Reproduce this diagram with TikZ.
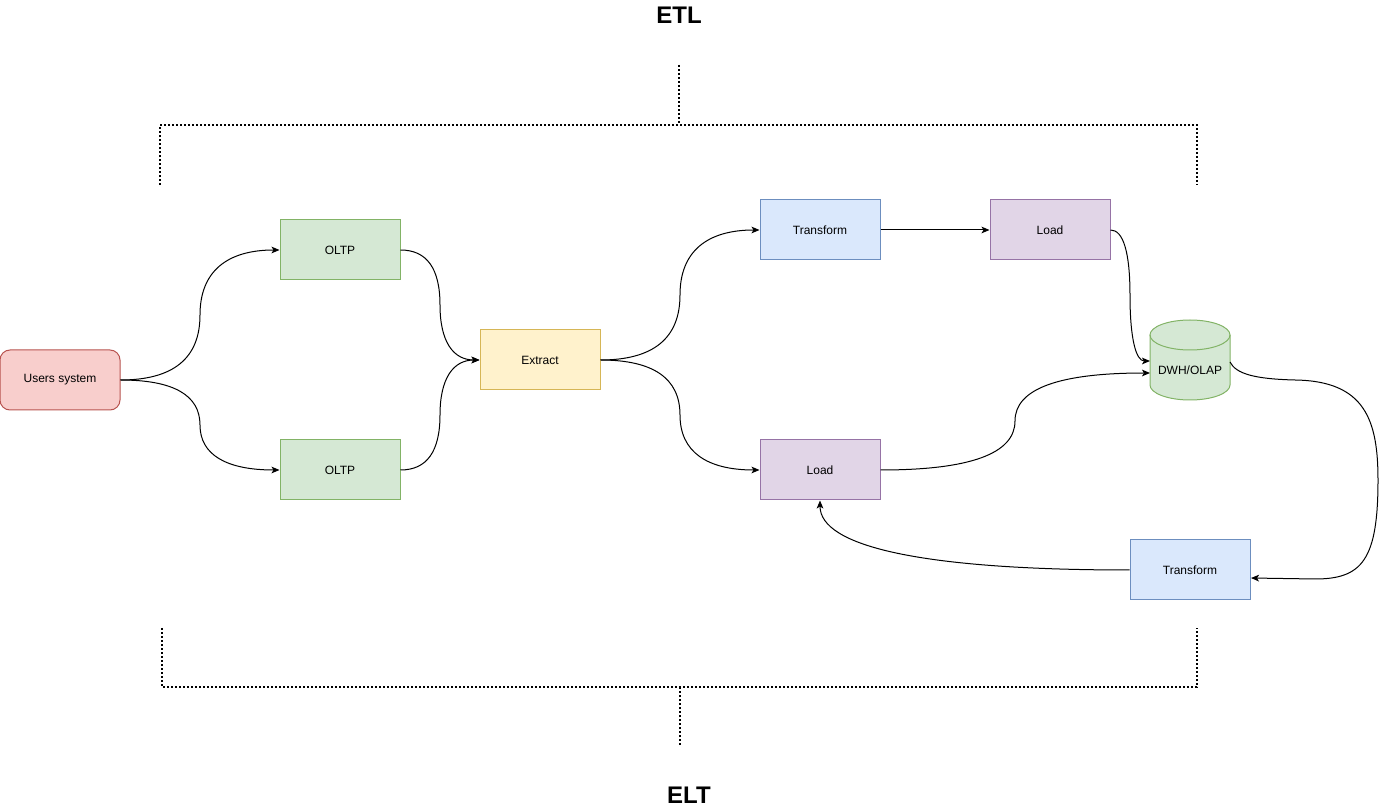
\documentclass[tikz,border=0pt]{standalone}
\usepackage{fontspec}
\setmainfont{Liberation Sans}
\usetikzlibrary{arrows.meta}
\definecolor{redfill}{HTML}{F8CECC}\definecolor{reddraw}{HTML}{B85450}
\definecolor{greenfill}{HTML}{D5E8D4}\definecolor{greendraw}{HTML}{82B366}
\definecolor{yellowfill}{HTML}{FFF2CC}\definecolor{yellowdraw}{HTML}{D6B656}
\definecolor{bluefill}{HTML}{DAE8FC}\definecolor{bluedraw}{HTML}{6C8EBF}
\definecolor{purplefill}{HTML}{E1D5E7}\definecolor{purpledraw}{HTML}{9673A6}
\tikzset{
  box/.style={draw, line width=0.75pt, minimum width=90pt, minimum height=45pt, inner sep=0pt, font=\fontsize{9}{11}\selectfont},
  redbox/.style={box, fill=redfill, draw=reddraw, rounded corners=7.5pt},
  greenbox/.style={box, fill=greenfill, draw=greendraw},
  yellowbox/.style={box, fill=yellowfill, draw=yellowdraw},
  bluebox/.style={box, fill=bluefill, draw=bluedraw},
  purplebox/.style={box, fill=purplefill, draw=purpledraw},
  arr/.style={line width=0.75pt, -{Stealth[length=6pt,width=5pt,inset=1.5pt]}},
  bracket/.style={line width=1.5pt, dash pattern=on 1.5pt off 1.5pt},
  title/.style={font=\fontsize{18}{20}\selectfont\bfseries, inner sep=0pt}
}
\begin{document}
\begin{tikzpicture}[x=0.75pt, y=-0.75pt]
\useasboundingbox (0,0) rectangle (1382,812);
% titles
\node[title] (etl) at (679,15) {ETL};
\node[title] (elt) at (689,795) {ELT};
% brackets
\coordinate (tl) at (160,185); \coordinate (tlc) at (160,125);
\coordinate (tr) at (1197,185); \coordinate (trc) at (1197,125);
\coordinate (tm) at (679,125); \coordinate (tmt) at (679,65);
\draw[bracket] (tl) -- (tlc) -- (trc) -- (tr);
\draw[bracket] (tmt) -- (tm);
\coordinate (bl) at (162,628); \coordinate (blc) at (162,687);
\coordinate (br) at (1197,628); \coordinate (brc) at (1197,687);
\coordinate (bm) at (680,687); \coordinate (bmb) at (680,747);
\draw[bracket] (bl) -- (blc) -- (brc) -- (br);
\draw[bracket] (bm) -- (bmb);
% nodes
\node[redbox] (users) at (60,380) {Users system};
\node[greenbox] (oltp1) at (340,250) {OLTP};
\node[greenbox] (oltp2) at (340,470) {OLTP};
\node[yellowbox] (extract) at (540,360) {Extract};
\node[bluebox] (tr1) at (820,230) {Transform};
\node[purplebox] (load1) at (1050,230) {Load};
\node[purplebox] (load2) at (820,470) {Load};
\node[bluebox] (tr2) at (1190,570) {Transform};
% cylinder
\fill[greenfill] (1150,335) -- (1150,385) arc[start angle=180, end angle=360, x radius=30pt, y radius=11.25pt] -- (1230,335) arc[start angle=0, end angle=180, x radius=30pt, y radius=11.25pt] -- cycle;
\draw[greendraw, line width=0.75pt] (1150,335) -- (1150,385) arc[start angle=180, end angle=360, x radius=30pt, y radius=11.25pt] -- (1230,335);
\draw[greendraw, line width=0.75pt] (1190,335) ellipse [x radius=30pt, y radius=11.25pt];
\node[inner sep=0pt, minimum width=60pt, minimum height=60pt, font=\fontsize{9}{11}\selectfont] (dwh) at (1190,370) {DWH/OLAP};
\coordinate (dwhin1) at (1150,361);
\coordinate (dwhin2) at (1150,373);
\coordinate (dwhout) at (1230,362);
\coordinate (tr2in) at (1251,578);
% edges
\draw[arr] (users.east) .. controls (173.3,380) and (200,358.3) .. (200,315) .. controls (200,271.7) and (226.7,250) .. (oltp1.west);
\draw[arr] (users.east) .. controls (173.3,380) and (200,395) .. (200,425) .. controls (200,455) and (226.7,470) .. (oltp2.west);
\draw[arr] (oltp1.east) .. controls (426.7,250) and (440,268.3) .. (440,305) .. controls (440,341.7) and (453.3,360) .. (extract.west);
\draw[arr] (oltp2.east) .. controls (426.7,470) and (440,451.7) .. (440,415) .. controls (440,378.3) and (453.3,360) .. (extract.west);
\draw[arr] (extract.east) .. controls (653.3,360) and (680,338.3) .. (680,295) .. controls (680,251.7) and (706.7,230) .. (tr1.west);
\draw[arr] (extract.east) .. controls (653.3,360) and (680,378.3) .. (680,415) .. controls (680,451.7) and (706.7,470) .. (load2.west);
\draw[arr] (tr1.east) -- (load1.west);
\draw[arr] (load1.east) .. controls (1123.3,230) and (1130,252.3) .. (1130,295.5) .. controls (1130,338.7) and (1136,361) .. (dwhin1);
\draw[arr] (load2.east) .. controls (970,470) and (1015,453.7) .. (1015,421) .. controls (1015,388.3) and (1060,373) .. (dwhin2);
\draw[arr] (dwhout) .. controls (1236,374) and (1255,379) .. (1295,380) .. controls (1365,381) and (1378,420) .. (1378,480) .. controls (1378,560) and (1362,579) .. (1315,579) -- (tr2in);
\draw[arr] (tr2.west) .. controls (923.3,570) and (820,546.7) .. (load2.south);
\end{tikzpicture}
\end{document}
